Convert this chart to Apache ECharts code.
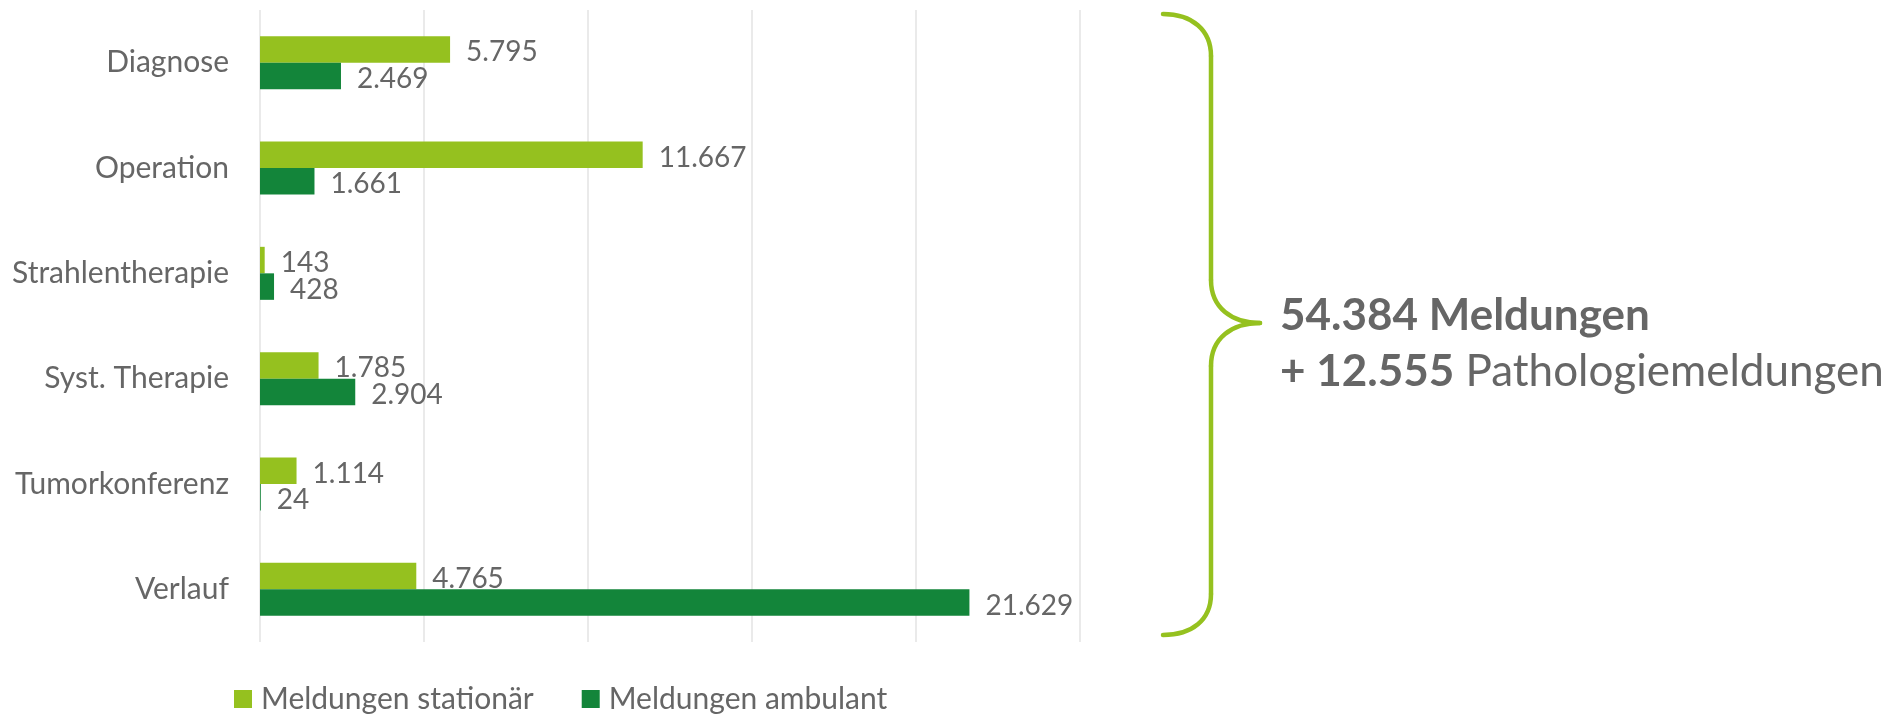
<!DOCTYPE html>
<html>
<head>
<meta charset="utf-8">
<script src="https://cdn.jsdelivr.net/npm/echarts@6/dist/echarts.min.js"></script>
<style>
  html, body { margin: 0; padding: 0; background: #fff; }
  #chart { width: 1893px; height: 714px; }
</style>
</head>
<body>
<div id="chart"></div>
<script>
const categories = ['Diagnose', 'Operation', 'Strahlentherapie', 'Syst. Therapie', 'Tumorkonferenz', 'Verlauf'];
const stationaer = [5795, 11667, 143, 1785, 1114, 4765];
const ambulant = [2469, 1661, 428, 2904, 24, 21629];
const seriesNames = ['Meldungen stationär', 'Meldungen ambulant'];
const totalLine = '54.384 Meldungen';
const pathoCount = '+ 12.555';
const pathoText = ' Pathologiemeldungen';

const gray = '#666666';
const lightGreen = '#95c11f';
const darkGreen = '#13853a';
const font = 'Lato, "Open Sans", sans-serif';

const fmt = v => String(v).replace(/\B(?=(\d{3})+(?!\d))/g, '.');

const chart = echarts.init(document.getElementById('chart'));

const labelStyle = {
  show: true,
  position: 'right',
  distance: 16,
  offset: [0, 3],
  color: gray,
  fontSize: 28,
  fontFamily: font,
  formatter: p => fmt(p.value)
};

// curly brace to the right of the plot
const braceStyle = { stroke: lightGreen, lineWidth: 4.5, fill: null, lineCap: 'round' };
const curve = (x1, y1, cpx1, cpy1, cpx2, cpy2, x2, y2) => ({
  type: 'bezierCurve',
  shape: { x1, y1, cpx1, cpy1, cpx2, cpy2, x2, y2 },
  style: braceStyle
});
const straight = (x1, y1, x2, y2) => ({
  type: 'line',
  shape: { x1, y1, x2, y2 },
  style: braceStyle
});

const option = {
  animation: false,
  grid: {
    left: 260,
    right: 813,
    top: 10,
    height: 632,
    containLabel: false
  },
  legend: {
    data: seriesNames,
    left: 229,
    top: 679,
    icon: 'rect',
    itemWidth: 18,
    itemHeight: 18,
    itemGap: 48,
    textStyle: {
      color: gray,
      fontSize: 30,
      fontFamily: font,
      padding: [0, 0, 0, 4]
    }
  },
  xAxis: {
    type: 'value',
    min: 0,
    max: 25000,
    interval: 5000,
    axisLabel: { show: false },
    axisLine: { show: false },
    axisTick: { show: false },
    splitLine: { lineStyle: { color: '#e3e3e3', width: 1.5 } }
  },
  yAxis: {
    type: 'category',
    data: categories,
    inverse: true,
    axisLine: { show: false },
    axisTick: { show: false },
    axisLabel: {
      margin: 31,
      color: gray,
      fontSize: 30,
      fontFamily: font
    }
  },
  series: [
    {
      name: seriesNames[0],
      type: 'bar',
      data: stationaer,
      barWidth: 26.5,
      barGap: '0%',
      itemStyle: { color: lightGreen },
      label: labelStyle
    },
    {
      name: seriesNames[1],
      type: 'bar',
      data: ambulant,
      barWidth: 26.5,
      barGap: '0%',
      itemStyle: { color: darkGreen },
      label: labelStyle
    }
  ],
  graphic: [
    curve(1163, 14, 1192, 14, 1211, 30, 1211, 56),
    straight(1211, 56, 1211, 280),
    curve(1211, 280, 1211, 308, 1232, 323, 1260, 323),
    curve(1260, 323, 1232, 323, 1211, 338, 1211, 366),
    straight(1211, 366, 1211, 594),
    curve(1211, 594, 1211, 620, 1192, 635, 1163, 635),
    {
      type: 'text',
      x: 1280,
      y: 316,
      style: {
        text: totalLine,
        font: 'bold 44px ' + font,
        fill: gray,
        verticalAlign: 'middle'
      }
    },
    {
      type: 'text',
      x: 1280,
      y: 372,
      style: {
        text: '{b|' + pathoCount + '}{r|' + pathoText + '}',
        fill: gray,
        verticalAlign: 'middle',
        rich: {
          b: { fontWeight: 'bold', fontSize: 44, fontFamily: font, fill: gray },
          r: { fontSize: 44, fontFamily: font, fill: gray }
        }
      }
    }
  ]
};

chart.setOption(option);
window.addEventListener('resize', () => chart.resize());
</script>
</body>
</html>
